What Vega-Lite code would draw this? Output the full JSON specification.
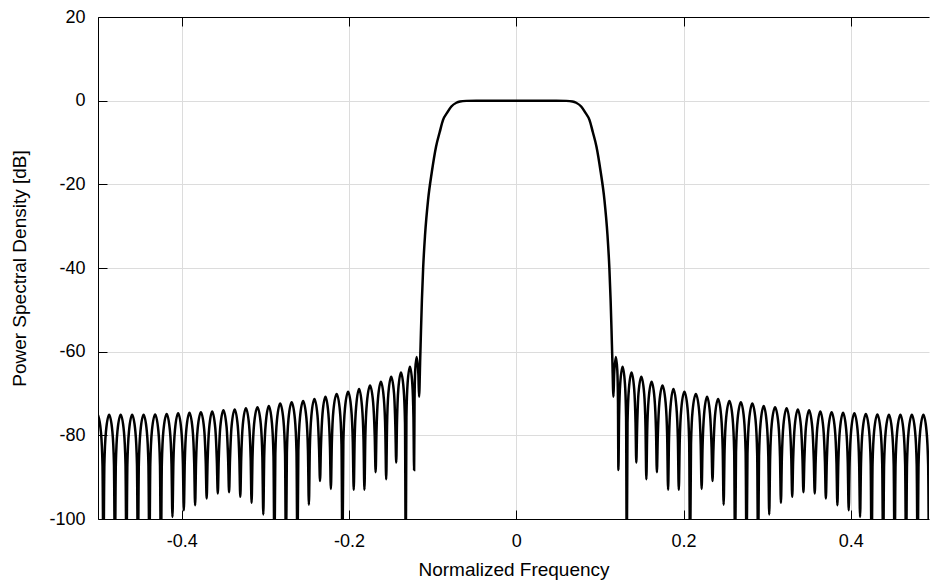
{
  "$schema": "https://vega.github.io/schema/vega-lite/v6.json",
  "width": 831,
  "height": 502,
  "autosize": {"type": "none"},
  "padding": {"left": 98, "top": 17, "right": 1, "bottom": 63},
  "background": "white",
  "config": {
    "view": {"stroke": null},
    "axis": {
      "labelFont": "Liberation Sans",
      "titleFont": "Liberation Sans",
      "labelFontSize": 18,
      "titleFontSize": 19,
      "labelColor": "black",
      "titleColor": "black",
      "titleFontWeight": "normal",
      "domainColor": "black",
      "domainWidth": 1,
      "tickColor": "black",
      "tickWidth": 1,
      "tickSize": -9,
      "gridColor": "#dcdcdc",
      "gridWidth": 1,
      "gridOpacity": 1
    }
  },
  "data": {"values": [
    {"f": -0.5, "p": -75.2}, {"f": -0.4965, "p": -79.2}, {"f": -0.4946, "p": -87.2}, {"f": -0.4935, "p": -110},
    {"f": -0.4924, "p": -87.1}, {"f": -0.4905, "p": -79.1}, {"f": -0.4867, "p": -75.1}, {"f": -0.4828, "p": -79.1}, {"f": -0.4809, "p": -87.1}, {"f": -0.4798, "p": -110},
    {"f": -0.4787, "p": -87.1}, {"f": -0.4768, "p": -79.1}, {"f": -0.4729, "p": -75.1}, {"f": -0.469, "p": -79.1}, {"f": -0.4671, "p": -87.1}, {"f": -0.466, "p": -110},
    {"f": -0.4649, "p": -87.1}, {"f": -0.463, "p": -79.1}, {"f": -0.4592, "p": -75.1}, {"f": -0.4553, "p": -79.1}, {"f": -0.4534, "p": -87.1}, {"f": -0.4523, "p": -110},
    {"f": -0.4512, "p": -87.1}, {"f": -0.4493, "p": -79.1}, {"f": -0.4455, "p": -75.1}, {"f": -0.4416, "p": -79.1}, {"f": -0.4397, "p": -87.1}, {"f": -0.4386, "p": -110},
    {"f": -0.4375, "p": -87}, {"f": -0.4356, "p": -79}, {"f": -0.4317, "p": -75}, {"f": -0.4278, "p": -79}, {"f": -0.4259, "p": -87}, {"f": -0.4248, "p": -110},
    {"f": -0.4237, "p": -86.9}, {"f": -0.4218, "p": -78.9}, {"f": -0.4179, "p": -74.9}, {"f": -0.414, "p": -78.9}, {"f": -0.4121, "p": -86.9}, {"f": -0.411, "p": -99.5},
    {"f": -0.4099, "p": -86.7}, {"f": -0.408, "p": -78.7}, {"f": -0.4042, "p": -74.7}, {"f": -0.4004, "p": -78.7}, {"f": -0.3985, "p": -86.7}, {"f": -0.3974, "p": -97.9},
    {"f": -0.3963, "p": -86.6}, {"f": -0.3944, "p": -78.6}, {"f": -0.3907, "p": -74.6}, {"f": -0.3869, "p": -78.6}, {"f": -0.385, "p": -86.6}, {"f": -0.3839, "p": -96.7},
    {"f": -0.3828, "p": -86.5}, {"f": -0.3809, "p": -78.5}, {"f": -0.377, "p": -74.5}, {"f": -0.3731, "p": -78.5}, {"f": -0.3712, "p": -86.5}, {"f": -0.3701, "p": -95.1},
    {"f": -0.369, "p": -86.3}, {"f": -0.3671, "p": -78.3}, {"f": -0.3635, "p": -74.3}, {"f": -0.3598, "p": -78.3}, {"f": -0.3579, "p": -86.3}, {"f": -0.3568, "p": -93.9},
    {"f": -0.3557, "p": -86}, {"f": -0.3538, "p": -78}, {"f": -0.3501, "p": -74}, {"f": -0.3463, "p": -78}, {"f": -0.3444, "p": -86}, {"f": -0.3433, "p": -93.6},
    {"f": -0.3422, "p": -85.8}, {"f": -0.3403, "p": -77.8}, {"f": -0.3366, "p": -73.8}, {"f": -0.3329, "p": -77.8}, {"f": -0.331, "p": -85.8}, {"f": -0.3299, "p": -94.7},
    {"f": -0.3288, "p": -85.5}, {"f": -0.3269, "p": -77.5}, {"f": -0.3232, "p": -73.5}, {"f": -0.3194, "p": -77.5}, {"f": -0.3175, "p": -85.5}, {"f": -0.3164, "p": -96.1},
    {"f": -0.3153, "p": -85.3}, {"f": -0.3134, "p": -77.3}, {"f": -0.3094, "p": -73.3}, {"f": -0.3054, "p": -77.3}, {"f": -0.3035, "p": -85.3}, {"f": -0.3024, "p": -98.9},
    {"f": -0.3013, "p": -85}, {"f": -0.2994, "p": -77}, {"f": -0.2958, "p": -73}, {"f": -0.2921, "p": -77}, {"f": -0.2902, "p": -85}, {"f": -0.2891, "p": -110},
    {"f": -0.288, "p": -84.4}, {"f": -0.2861, "p": -76.4}, {"f": -0.2822, "p": -72.4}, {"f": -0.2783, "p": -76.4}, {"f": -0.2764, "p": -84.4}, {"f": -0.2753, "p": -110},
    {"f": -0.2742, "p": -84.1}, {"f": -0.2723, "p": -76.1}, {"f": -0.2685, "p": -72.1}, {"f": -0.2646, "p": -76.1}, {"f": -0.2627, "p": -84.1}, {"f": -0.2616, "p": -110},
    {"f": -0.2605, "p": -83.8}, {"f": -0.2586, "p": -75.8}, {"f": -0.2548, "p": -71.8}, {"f": -0.2509, "p": -75.8}, {"f": -0.249, "p": -83.8}, {"f": -0.2479, "p": -96.6},
    {"f": -0.2468, "p": -83.3}, {"f": -0.2449, "p": -75.3}, {"f": -0.2413, "p": -71.3}, {"f": -0.2376, "p": -75.3}, {"f": -0.2357, "p": -83.3}, {"f": -0.2346, "p": -90.9},
    {"f": -0.2335, "p": -82.8}, {"f": -0.2316, "p": -74.8}, {"f": -0.2281, "p": -70.8}, {"f": -0.2246, "p": -74.8}, {"f": -0.2227, "p": -82.8}, {"f": -0.2216, "p": -92.8},
    {"f": -0.2205, "p": -82.1}, {"f": -0.2186, "p": -74.1}, {"f": -0.2147, "p": -70.1}, {"f": -0.2108, "p": -74.1}, {"f": -0.2089, "p": -82.1}, {"f": -0.2078, "p": -110},
    {"f": -0.2067, "p": -81.6}, {"f": -0.2048, "p": -73.6}, {"f": -0.201, "p": -69.6}, {"f": -0.1973, "p": -73.6}, {"f": -0.1954, "p": -81.6}, {"f": -0.1943, "p": -93},
    {"f": -0.1932, "p": -80.9}, {"f": -0.1913, "p": -72.9}, {"f": -0.1879, "p": -68.9}, {"f": -0.1845, "p": -72.9}, {"f": -0.1826, "p": -80.9}, {"f": -0.1815, "p": -93},
    {"f": -0.1804, "p": -80.1}, {"f": -0.1785, "p": -72.1}, {"f": -0.1748, "p": -68.1}, {"f": -0.1711, "p": -72.1}, {"f": -0.1692, "p": -80.1}, {"f": -0.1681, "p": -88.8},
    {"f": -0.1671, "p": -79.2}, {"f": -0.1653, "p": -71.2}, {"f": -0.1618, "p": -67.2}, {"f": -0.1583, "p": -71.2}, {"f": -0.1565, "p": -79.2}, {"f": -0.1555, "p": -90.5},
    {"f": -0.1545, "p": -78}, {"f": -0.1529, "p": -70}, {"f": -0.1495, "p": -66}, {"f": -0.1461, "p": -70}, {"f": -0.1445, "p": -78}, {"f": -0.1435, "p": -86.5},
    {"f": -0.1426, "p": -77}, {"f": -0.141, "p": -69}, {"f": -0.1378, "p": -65}, {"f": -0.1346, "p": -69}, {"f": -0.133, "p": -77}, {"f": -0.1321, "p": -110},
    {"f": -0.1313, "p": -75.6}, {"f": -0.1299, "p": -67.6}, {"f": -0.1271, "p": -63.6}, {"f": -0.1243, "p": -67.6}, {"f": -0.1229, "p": -75.6}, {"f": -0.1221, "p": -88.3},
    {"f": -0.1216, "p": -72}, {"f": -0.1208, "p": -64.5}, {"f": -0.1191, "p": -61.3}, {"f": -0.117, "p": -65.5}, {"f": -0.1162, "p": -70.8},
    {"f": -0.1148, "p": -61.5}, {"f": -0.1139, "p": -55}, {"f": -0.1128, "p": -47.7}, {"f": -0.1113, "p": -40}, {"f": -0.109, "p": -32}, {"f": -0.1054, "p": -23.7},
    {"f": -0.1009, "p": -17}, {"f": -0.0959, "p": -11}, {"f": -0.0915, "p": -7.5}, {"f": -0.0875, "p": -4.6}, {"f": -0.0824, "p": -2.8}, {"f": -0.0776, "p": -1.4},
    {"f": -0.0716, "p": -0.5}, {"f": -0.0672, "p": -0.2}, {"f": -0.0597, "p": -0.05}, {"f": -0.0478, "p": 0}, {"f": -0.0239, "p": 0},
    {"f": 0, "p": 0},
    {"f": 0.0239, "p": 0}, {"f": 0.0478, "p": 0}, {"f": 0.0597, "p": -0.05}, {"f": 0.0672, "p": -0.2}, {"f": 0.0716, "p": -0.5},
    {"f": 0.0776, "p": -1.4}, {"f": 0.0824, "p": -2.8}, {"f": 0.0875, "p": -4.6}, {"f": 0.0915, "p": -7.5}, {"f": 0.0959, "p": -11}, {"f": 0.1009, "p": -17},
    {"f": 0.1054, "p": -23.7}, {"f": 0.109, "p": -32}, {"f": 0.1113, "p": -40}, {"f": 0.1128, "p": -47.7}, {"f": 0.1139, "p": -55}, {"f": 0.1148, "p": -61.5},
    {"f": 0.1162, "p": -70.8}, {"f": 0.117, "p": -65.5}, {"f": 0.1191, "p": -61.3}, {"f": 0.1208, "p": -64.5}, {"f": 0.1216, "p": -72},
    {"f": 0.1221, "p": -88.3}, {"f": 0.1229, "p": -75.6}, {"f": 0.1243, "p": -67.6}, {"f": 0.1271, "p": -63.6}, {"f": 0.1299, "p": -67.6}, {"f": 0.1313, "p": -75.6},
    {"f": 0.1321, "p": -110}, {"f": 0.133, "p": -77}, {"f": 0.1346, "p": -69}, {"f": 0.1378, "p": -65}, {"f": 0.141, "p": -69}, {"f": 0.1426, "p": -77},
    {"f": 0.1435, "p": -86.5}, {"f": 0.1445, "p": -78}, {"f": 0.1461, "p": -70}, {"f": 0.1495, "p": -66}, {"f": 0.1529, "p": -70}, {"f": 0.1545, "p": -78},
    {"f": 0.1555, "p": -90.5}, {"f": 0.1565, "p": -79.2}, {"f": 0.1583, "p": -71.2}, {"f": 0.1618, "p": -67.2}, {"f": 0.1653, "p": -71.2}, {"f": 0.1671, "p": -79.2},
    {"f": 0.1681, "p": -88.8}, {"f": 0.1692, "p": -80.1}, {"f": 0.1711, "p": -72.1}, {"f": 0.1748, "p": -68.1}, {"f": 0.1785, "p": -72.1}, {"f": 0.1804, "p": -80.1},
    {"f": 0.1815, "p": -93}, {"f": 0.1826, "p": -80.9}, {"f": 0.1845, "p": -72.9}, {"f": 0.1879, "p": -68.9}, {"f": 0.1913, "p": -72.9}, {"f": 0.1932, "p": -80.9},
    {"f": 0.1943, "p": -93}, {"f": 0.1954, "p": -81.6}, {"f": 0.1973, "p": -73.6}, {"f": 0.201, "p": -69.6}, {"f": 0.2048, "p": -73.6}, {"f": 0.2067, "p": -81.6},
    {"f": 0.2078, "p": -110}, {"f": 0.2089, "p": -82.1}, {"f": 0.2108, "p": -74.1}, {"f": 0.2147, "p": -70.1}, {"f": 0.2186, "p": -74.1}, {"f": 0.2205, "p": -82.1},
    {"f": 0.2216, "p": -92.8}, {"f": 0.2227, "p": -82.8}, {"f": 0.2246, "p": -74.8}, {"f": 0.2281, "p": -70.8}, {"f": 0.2316, "p": -74.8}, {"f": 0.2335, "p": -82.8},
    {"f": 0.2346, "p": -90.9}, {"f": 0.2357, "p": -83.3}, {"f": 0.2376, "p": -75.3}, {"f": 0.2413, "p": -71.3}, {"f": 0.2449, "p": -75.3}, {"f": 0.2468, "p": -83.3},
    {"f": 0.2479, "p": -96.6}, {"f": 0.249, "p": -83.8}, {"f": 0.2509, "p": -75.8}, {"f": 0.2548, "p": -71.8}, {"f": 0.2586, "p": -75.8}, {"f": 0.2605, "p": -83.8},
    {"f": 0.2616, "p": -110}, {"f": 0.2627, "p": -84.1}, {"f": 0.2646, "p": -76.1}, {"f": 0.2685, "p": -72.1}, {"f": 0.2723, "p": -76.1}, {"f": 0.2742, "p": -84.1},
    {"f": 0.2753, "p": -110}, {"f": 0.2764, "p": -84.4}, {"f": 0.2783, "p": -76.4}, {"f": 0.2822, "p": -72.4}, {"f": 0.2861, "p": -76.4}, {"f": 0.288, "p": -84.4},
    {"f": 0.2891, "p": -110}, {"f": 0.2902, "p": -85}, {"f": 0.2921, "p": -77}, {"f": 0.2958, "p": -73}, {"f": 0.2994, "p": -77}, {"f": 0.3013, "p": -85},
    {"f": 0.3024, "p": -98.9}, {"f": 0.3035, "p": -85.3}, {"f": 0.3054, "p": -77.3}, {"f": 0.3094, "p": -73.3}, {"f": 0.3134, "p": -77.3}, {"f": 0.3153, "p": -85.3},
    {"f": 0.3164, "p": -96.1}, {"f": 0.3175, "p": -85.5}, {"f": 0.3194, "p": -77.5}, {"f": 0.3232, "p": -73.5}, {"f": 0.3269, "p": -77.5}, {"f": 0.3288, "p": -85.5},
    {"f": 0.3299, "p": -94.7}, {"f": 0.331, "p": -85.8}, {"f": 0.3329, "p": -77.8}, {"f": 0.3366, "p": -73.8}, {"f": 0.3403, "p": -77.8}, {"f": 0.3422, "p": -85.8},
    {"f": 0.3433, "p": -93.6}, {"f": 0.3444, "p": -86}, {"f": 0.3463, "p": -78}, {"f": 0.3501, "p": -74}, {"f": 0.3538, "p": -78}, {"f": 0.3557, "p": -86},
    {"f": 0.3568, "p": -93.9}, {"f": 0.3579, "p": -86.3}, {"f": 0.3598, "p": -78.3}, {"f": 0.3635, "p": -74.3}, {"f": 0.3671, "p": -78.3}, {"f": 0.369, "p": -86.3},
    {"f": 0.3701, "p": -95.1}, {"f": 0.3712, "p": -86.5}, {"f": 0.3731, "p": -78.5}, {"f": 0.377, "p": -74.5}, {"f": 0.3809, "p": -78.5}, {"f": 0.3828, "p": -86.5},
    {"f": 0.3839, "p": -96.7}, {"f": 0.385, "p": -86.6}, {"f": 0.3869, "p": -78.6}, {"f": 0.3907, "p": -74.6}, {"f": 0.3944, "p": -78.6}, {"f": 0.3963, "p": -86.6},
    {"f": 0.3974, "p": -97.9}, {"f": 0.3985, "p": -86.7}, {"f": 0.4004, "p": -78.7}, {"f": 0.4042, "p": -74.7}, {"f": 0.408, "p": -78.7}, {"f": 0.4099, "p": -86.7},
    {"f": 0.411, "p": -99.5}, {"f": 0.4121, "p": -86.9}, {"f": 0.414, "p": -78.9}, {"f": 0.4179, "p": -74.9}, {"f": 0.4218, "p": -78.9}, {"f": 0.4237, "p": -86.9},
    {"f": 0.4248, "p": -110}, {"f": 0.4259, "p": -87}, {"f": 0.4278, "p": -79}, {"f": 0.4317, "p": -75}, {"f": 0.4356, "p": -79}, {"f": 0.4375, "p": -87},
    {"f": 0.4386, "p": -110}, {"f": 0.4397, "p": -87.1}, {"f": 0.4416, "p": -79.1}, {"f": 0.4455, "p": -75.1}, {"f": 0.4493, "p": -79.1}, {"f": 0.4512, "p": -87.1},
    {"f": 0.4523, "p": -110}, {"f": 0.4534, "p": -87.1}, {"f": 0.4553, "p": -79.1}, {"f": 0.4592, "p": -75.1}, {"f": 0.463, "p": -79.1}, {"f": 0.4649, "p": -87.1},
    {"f": 0.466, "p": -110}, {"f": 0.4671, "p": -87.1}, {"f": 0.469, "p": -79.1}, {"f": 0.4729, "p": -75.1}, {"f": 0.4768, "p": -79.1}, {"f": 0.4787, "p": -87.1},
    {"f": 0.4798, "p": -110}, {"f": 0.4809, "p": -87.1}, {"f": 0.4828, "p": -79.1}, {"f": 0.4867, "p": -75.1}, {"f": 0.4905, "p": -79.1}, {"f": 0.4924, "p": -87.1},
    {"f": 0.4935, "p": -110}, {"f": 0.4946, "p": -87.2}, {"f": 0.4965, "p": -79.2}, {"f": 0.5, "p": -75.2}
  ]},
  "layer": [
    {
      "mark": {"type": "line", "color": "black", "strokeWidth": 2.5, "interpolate": "monotone", "clip": true},
      "encoding": {
        "x": {
          "field": "f", "type": "quantitative",
          "scale": {"domain": [-0.5, 0.4934], "nice": false, "zero": false},
          "axis": {
            "title": "Normalized Frequency",
            "values": [-0.4, -0.2, 0, 0.2, 0.4],
            "labelExpr": "replace(format(datum.value, '~g'), '−', '-')",
            "labelPadding": 22,
            "titlePadding": 10
          }
        },
        "y": {
          "field": "p", "type": "quantitative",
          "scale": {"domain": [-100, 20], "nice": false, "zero": false},
          "axis": {
            "title": "Power Spectral Density [dB]",
            "values": [-100, -80, -60, -40, -20, 0, 20],
            "labelExpr": "replace(format(datum.value, '~g'), '−', '-')",
            "labelPadding": 22,
            "titlePadding": 19
          }
        }
      }
    },
    {
      "mark": {"type": "line", "opacity": 0},
      "encoding": {
        "x": {
          "field": "f", "type": "quantitative",
          "axis": {"orient": "top", "title": null, "labels": false, "grid": false, "values": [-0.4, -0.2, 0, 0.2, 0.4]}
        },
        "y": {"field": "p", "type": "quantitative", "axis": null}
      }
    }
  ],
  "resolve": {"axis": {"x": "independent", "y": "independent"}}
}
